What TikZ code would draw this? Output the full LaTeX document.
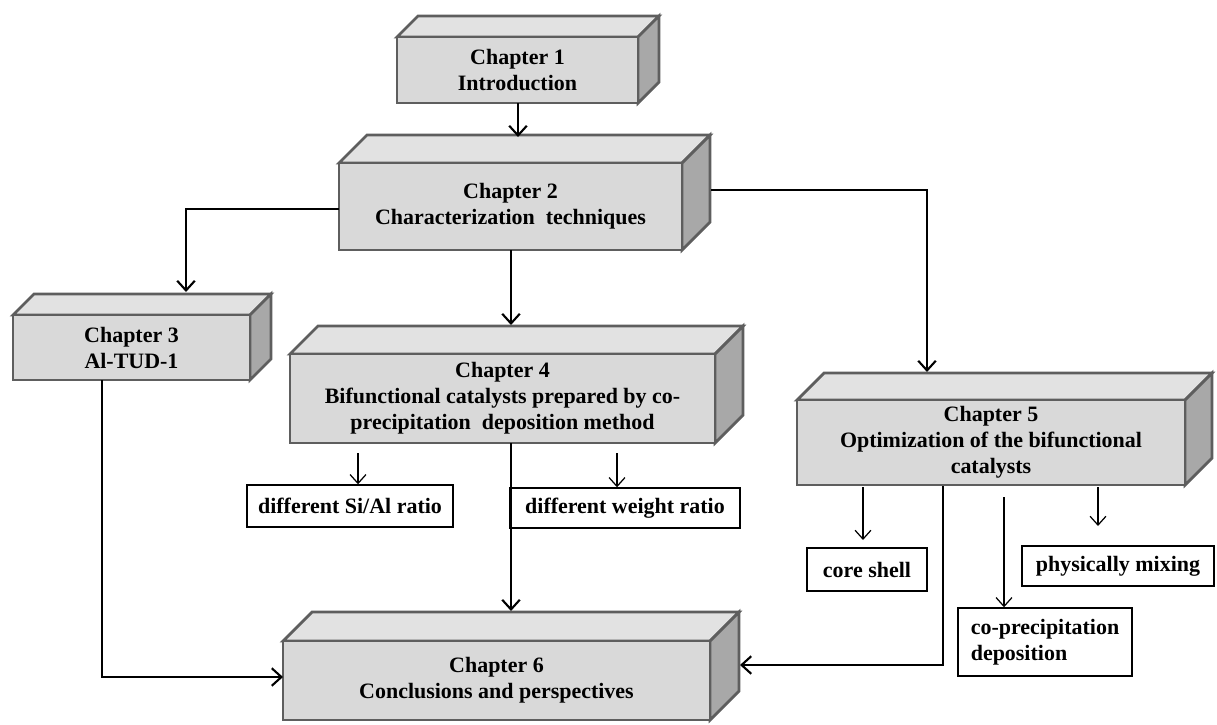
\documentclass[tikz,border=0pt]{standalone}
\usepackage{fontspec}
\setmainfont{Liberation Serif}
\usetikzlibrary{arrows.meta}
\definecolor{frontc}{HTML}{D9D9D9}
\definecolor{topc}{HTML}{E2E2E2}
\definecolor{sidec}{HTML}{A8A8A8}
\definecolor{edgec}{HTML}{5E5E5E}
\tikzset{
  boxedge/.style={draw=edgec, line width=1.6pt, line join=miter},
  topface/.style={boxedge, fill=topc},
  sideface/.style={boxedge, fill=sidec},
  front/.style={boxedge, fill=frontc, inner sep=0pt, align=center,
    font=\fontsize{12.5}{14.8}\selectfont\bfseries},
  subbox/.style={draw=black, line width=0.8pt, fill=white, inner sep=0pt,
    font=\fontsize{12.5}{14.8}\selectfont\bfseries},
  arr/.style={draw=black, line width=1.2pt, -{Straight Barb[length=5.5pt,width=10pt,line width=1.2pt]}},
  thinarr/.style={draw=black, line width=0.7pt, -{Straight Barb[length=5pt,width=9pt,line width=0.7pt]}},
}
% #1 name, #2 x1, #3 y1, #4 x2, #5 y2, #6 depth, #7 text
\newcommand\chapbox[7]{%
  \filldraw[topface] (#2,#3) -- (#2+#6,#3-#6) -- (#4+#6,#3-#6) -- (#4,#3) -- cycle;
  \filldraw[sideface] (#4,#3) -- (#4+#6,#3-#6) -- (#4+#6,#5-#6) -- (#4,#5) -- cycle;
  \node[front, minimum width={(#4-#2)*0.02cm}, minimum height={(#5-#3)*0.02cm}]
    (#1) at ({(#2+#4)/2},{(#3+#5)/2}) {#7};
}
% #1 name, #2 x1, #3 y1, #4 x2, #5 y2, #6 options, #7 text
\newcommand\subboxat[7]{%
  \node[subbox, #6, minimum width={(#4-#2)*0.02cm}, minimum height={(#5-#3)*0.02cm}]
    (#1) at ({(#2+#4)/2},{(#3+#5)/2}) {#7};
}
\begin{document}
\begin{tikzpicture}[x=0.02cm, y=-0.02cm]
\useasboundingbox (0,0) rectangle (1217,724);

\chapbox{ch1}{397}{37}{638}{103}{21}{Chapter 1\\Introduction}
\chapbox{ch2}{339}{163}{682}{250}{28}{Chapter 2\\Characterization\ \ techniques}
\chapbox{ch3}{13}{315}{250}{380}{21}{Chapter 3\\Al-TUD-1}
\chapbox{ch4}{290}{354}{715}{443}{28}{Chapter 4\\Bifunctional catalysts prepared by co-\\precipitation\ \ deposition method}
\chapbox{ch5}{797}{400}{1185}{485}{27}{Chapter 5\\Optimization of the bifunctional\\catalysts}
\chapbox{ch6}{283}{641}{710}{720}{29}{Chapter 6\\Conclusions and perspectives}

% sub boxes
\subboxat{sial}{247}{485}{453}{527}{}{different Si/Al ratio}
\subboxat{wt}{510}{488}{740}{528}{}{different weight ratio}
\subboxat{core}{807}{548}{927}{591}{}{core shell}
\subboxat{phys}{1022}{546}{1214}{586}{}{physically mixing}
\subboxat{copd}{958}{608}{1132}{676}{align=left}{co-precipitation\\deposition}

% named way points
\coordinate (a12s) at (518,103);
\coordinate (a12e) at (518,137);
\coordinate (a23s) at (339,209);
\coordinate (a23e) at (186,292);
\coordinate (a24s) at (511,250);
\coordinate (a24e) at (511,325);
\coordinate (a25s) at (711,190);
\coordinate (a25e) at (927,372);
\coordinate (a36s) at (102,380);
\coordinate (a36e) at (283,677);
\coordinate (a46s) at (511,443);
\coordinate (a46e) at (511,611);
\coordinate (a56s) at (943,486);
\coordinate (a56e) at (740,665);
\coordinate (s1s) at (358,453);
\coordinate (s2s) at (617,453);
\coordinate (s3s) at (863,487);
\coordinate (s3e) at (863,540);
\coordinate (s4s) at (1098,487);
\coordinate (s4e) at (1098,526);
\coordinate (s5s) at (1004,497);

% connectors
\draw[arr] (a12s) -- (a12e);
\draw[arr] (a23s) -| (a23e);
\draw[arr] (a24s) -- (a24e);
\draw[arr] (a25s) -| (a25e);
\draw[arr] (a36s) |- (a36e);
\draw[arr] (a46s) -- (a46e);
\draw[arr] (a56s) |- (a56e);

\draw[thinarr] (s1s) -- (s1s |- sial.north);
\draw[thinarr] (s2s) -- (s2s |- wt.north);
\draw[thinarr] (s3s) -- (s3e);
\draw[thinarr] (s4s) -- (s4e);
\draw[thinarr] (s5s) -- (s5s |- copd.north);
\end{tikzpicture}
\end{document}
